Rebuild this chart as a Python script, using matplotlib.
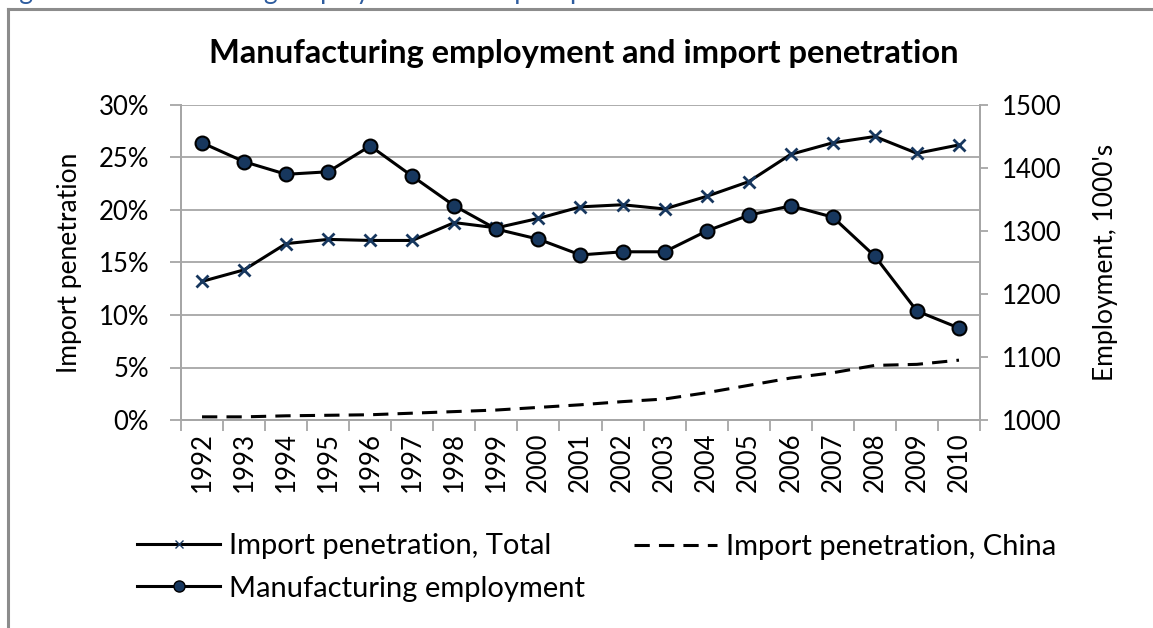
import numpy as np
import matplotlib as mpl
mpl.use('Agg')
import matplotlib.pyplot as plt
from matplotlib.lines import Line2D

plt.rcParams['font.family'] = ['Lato', 'DejaVu Sans']

years = [str(y) for y in range(1992, 2011)]
# import penetration, percent of domestic demand
import_total = [13.2, 14.3, 16.8, 17.2, 17.1, 17.1, 18.8, 18.3, 19.2, 20.3,
                20.5, 20.1, 21.3, 22.7, 25.3, 26.4, 27.0, 25.4, 26.2]
import_china = [0.3, 0.3, 0.4, 0.45, 0.5, 0.65, 0.8, 0.95, 1.2, 1.45,
                1.75, 2.0, 2.6, 3.3, 4.0, 4.5, 5.2, 5.3, 5.7]
# manufacturing employment, thousands
employment = [1440, 1410, 1390, 1394, 1435, 1387, 1340, 1303, 1287, 1262,
              1267, 1267, 1300, 1325, 1340, 1322, 1260, 1173, 1146]

navy = '#17375E'
grid_col = '#A6A6A6'
W, H = 1153, 628

fig = plt.figure(figsize=(W / 100, H / 100), dpi=100)
ax = fig.add_axes([181 / W, 1 - 420 / H, (980 - 181) / W, (420 - 105) / H])
ax2 = ax.twinx()

x = np.arange(len(years))
ax.plot(x, import_total, color='black', lw=2.2, marker='x',
        ms=8.5, mew=2, mec=navy, zorder=3)
ax.plot(x, import_china, color='black', lw=2.2,
        ls=(0, (5, 3)), dash_capstyle='butt', zorder=3)
ax2.plot(x, employment, color='black', lw=2.2, marker='o',
         ms=10, mfc=navy, mec='black', mew=1.5, zorder=3)

ax.set_xlim(-0.5, len(years) - 0.5)
ax.set_ylim(0, 30)
ax2.set_ylim(1000, 1500)
ax.set_yticks(np.arange(0, 31, 5))
ax.set_yticklabels(['%d%%' % v for v in range(0, 31, 5)])
ax2.set_yticks(np.arange(1000, 1501, 100))
ax.yaxis.grid(True, color=grid_col, lw=1.3)
ax.set_axisbelow(True)

ax.set_xticks(x)
ax.set_xticklabels(years, rotation=90)
ax.set_xticks(np.arange(-0.5, len(years), 1), minor=True)
ax.tick_params(axis='x', which='major', length=0, pad=9, labelsize=18.5)
ax.tick_params(axis='x', which='minor', length=8, color=grid_col, width=1.3)
ax.tick_params(axis='y', length=8, color=grid_col, width=1.3, labelsize=18.5, pad=15)
ax2.tick_params(axis='y', length=6, color=grid_col, width=1.3, labelsize=18.5, pad=10)

for a in (ax, ax2):
    a.spines['top'].set_visible(False)
    for s in ('left', 'right', 'bottom'):
        a.spines[s].set_color(grid_col)
        a.spines[s].set_linewidth(1.3)

ax.set_ylabel('Import penetration', fontsize=19, labelpad=12)
ax2.set_ylabel("Employment, 1000's", fontsize=19, labelpad=22)

fig.text(584 / W, 1 - 54 / H, 'Manufacturing employment and import penetration',
         ha='center', va='center', fontsize=23.5, fontweight='bold')

# caption of the figure above the chart frame, mostly cut off
fig.text(-2 / W, 1 + 1 / H, 'Figure 3: Manufacturing employment and import penetration',
         ha='left', va='baseline', fontsize=19, color='#2E5C9E')

# chart frame
fig.add_artist(Line2D([8 / W, 8 / W], [0, 1 - 9 / H], transform=fig.transFigure,
                      color='#8C8C8C', lw=2.2))
fig.add_artist(Line2D([8 / W, 1], [1 - 9 / H, 1 - 9 / H], transform=fig.transFigure,
                      color='#8C8C8C', lw=2.2))

h_total = Line2D([], [], color='black', lw=2.2, marker='x', ms=6, mew=1, mec=navy)
h_emp = Line2D([], [], color='black', lw=2.2, marker='o', ms=8, mfc=navy, mec='black')
h_china = Line2D([], [], color='black', lw=2.2, ls=(0, (5, 3)), dash_capstyle='butt')
leg_kw = dict(loc='center left', frameon=False, fontsize=21, handlelength=2.85,
              handletextpad=0.31, labelspacing=0.55, borderpad=0, borderaxespad=0)
fig.legend([h_total, h_emp], ['Import penetration, Total', 'Manufacturing employment'],
           bbox_to_anchor=(137 / W, 1 - 567.5 / H), **leg_kw)
fig.legend([h_china], ['Import penetration, China'],
           bbox_to_anchor=(634 / W, 1 - 547 / H), **leg_kw)

fig.savefig('out.png', dpi=100)
